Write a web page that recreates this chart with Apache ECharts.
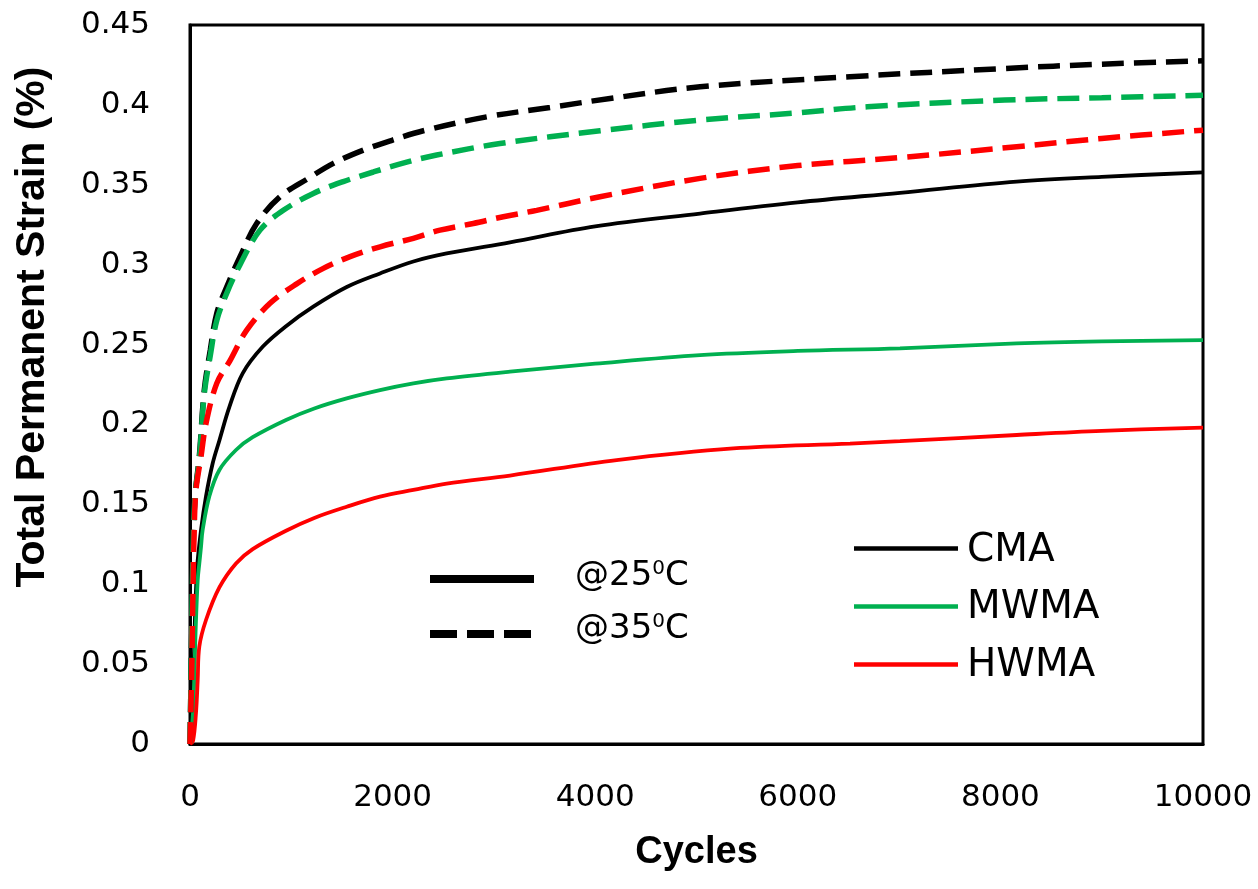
<!DOCTYPE html>
<html>
<head>
<meta charset="utf-8">
<script src="https://cdn.jsdelivr.net/npm/echarts@6/dist/echarts.min.js"></script>
<style>
  html, body { margin: 0; padding: 0; background: #fff; }
  #main { width: 1258px; height: 889px; }
</style>
</head>
<body>
<div id="main"></div>
<script>
// cycles and total permanent strain (%)
const cma25Cycles = [0, 25, 45, 70, 109, 158, 224, 290, 389, 520, 717, 948, 1217, 1547, 1876, 2205, 2534, 3159, 4000, 5035, 6000, 7009, 8161, 9000, 10000];
const cma25Strain = [0, 0.02, 0.07, 0.11, 0.134, 0.155, 0.1757, 0.190, 0.211, 0.232, 0.2486, 0.2615, 0.2737, 0.286, 0.2945, 0.302, 0.307, 0.314, 0.324, 0.332, 0.339, 0.345, 0.352, 0.355, 0.3577];

const mwma25Cycles = [0, 30, 55, 76, 92, 109, 125, 191, 290, 454, 619, 948, 1227, 1547, 1876, 2205, 2534, 3159, 4000, 5035, 6000, 7009, 8161, 9000, 10000];
const mwma25Strain = [0, 0.02, 0.07, 0.1026, 0.113, 0.1235, 0.134, 0.155, 0.1715, 0.184, 0.192, 0.2028, 0.210, 0.2163, 0.2215, 0.2257, 0.2288, 0.233, 0.238, 0.2434, 0.246, 0.2476, 0.2507, 0.252, 0.2528];

const hwma25Cycles = [0, 30, 59, 76, 92, 158, 290, 454, 619, 948, 1227, 1547, 1876, 2205, 2534, 3159, 4212, 5363, 6515, 7009, 8161, 9000, 10000];
const hwma25Strain = [0, 0.002, 0.0194, 0.04, 0.061, 0.0776, 0.098, 0.113, 0.122, 0.1335, 0.1415, 0.1485, 0.1548, 0.159, 0.163, 0.168, 0.1777, 0.185, 0.188, 0.1895, 0.1934, 0.196, 0.198];

const cma35Cycles = [0, 15, 30, 50, 92, 141, 200, 264, 362, 494, 658, 888, 1168, 1415, 1711, 2000, 2303, 2928, 3554, 4146, 5035, 6515, 8043, 9000, 10000];
const cma35Strain = [0, 0.06, 0.12, 0.155, 0.18, 0.2215, 0.2465, 0.2695, 0.286, 0.305, 0.3258, 0.3425, 0.354, 0.3634, 0.3717, 0.378, 0.3838, 0.3925, 0.3984, 0.404, 0.4113, 0.4176, 0.4228, 0.4255, 0.4276];

const mwma35Cycles = [0, 15, 30, 50, 92, 141, 200, 264, 362, 494, 691, 921, 1217, 1513, 1810, 2139, 2435, 3060, 4047, 5035, 6000, 6685, 8043, 9000, 10000];
const mwma35Strain = [0, 0.06, 0.12, 0.155, 0.178, 0.219, 0.243, 0.265, 0.282, 0.300, 0.3216, 0.334, 0.3446, 0.352, 0.358, 0.3642, 0.3686, 0.3758, 0.3838, 0.3905, 0.395, 0.3988, 0.403, 0.4045, 0.406];

const hwma35Cycles = [0, 15, 28, 40, 59, 109, 158, 264, 395, 560, 790, 1053, 1316, 1580, 1876, 2205, 2468, 2797, 3093, 3422, 4047, 5035, 6000, 7009, 8161, 9000, 10000];
const hwma35Strain = [0, 0.04, 0.09, 0.13, 0.159, 0.18, 0.2007, 0.2257, 0.24, 0.259, 0.2758, 0.288, 0.2977, 0.305, 0.3112, 0.3165, 0.3216, 0.3258, 0.33, 0.334, 0.3425, 0.354, 0.362, 0.367, 0.3738, 0.379, 0.3842];

const BLACK = '#000000', GREEN = '#00B050', RED = '#FF0000';
const zip = (xs, ys) => xs.map((x, i) => [x, ys[i]]);

function curve(name, xs, ys, color, dashed) {
  return {
    name: name,
    type: 'line',
    data: zip(xs, ys),
    showSymbol: false,
    symbol: 'none',
    smooth: 0.35,
    silent: true,
    lineStyle: dashed
      ? { color: color, width: 5.5, type: [22, 10] }
      : { color: color, width: 3.8, type: 'solid' },
    z: dashed ? 3 : 2
  };
}

const myChart = echarts.init(document.getElementById('main'));
myChart.setOption({
  animation: false,
  backgroundColor: '#fff',
  grid: {
    left: 190, right: 55, top: 25, bottom: 145,
    show: true, borderColor: '#000', borderWidth: 3
  },
  xAxis: {
    type: 'value',
    min: 0, max: 10000, interval: 2000,
    axisLine: { show: true, lineStyle: { color: '#000', width: 3 } },
    axisTick: { show: false },
    splitLine: { show: false },
    axisLabel: {
      color: '#000', fontFamily: 'DejaVu Sans', fontSize: 31, margin: 38,
      formatter: (v) => String(v)
    },
    name: 'Cycles',
    nameLocation: 'middle',
    nameGap: 90,
    nameTextStyle: { color: '#000', fontFamily: 'Liberation Sans', fontWeight: 'bold', fontSize: 38 }
  },
  yAxis: {
    type: 'value',
    min: 0, max: 0.45, interval: 0.05,
    axisLine: { show: true, lineStyle: { color: '#000', width: 3 } },
    axisTick: { show: false },
    splitLine: { show: false },
    axisLabel: { color: '#000', fontFamily: 'DejaVu Sans', fontSize: 31, margin: 40 }
  },
  series: [
    curve('CMA', cma25Cycles, cma25Strain, BLACK, false),
    curve('MWMA', mwma25Cycles, mwma25Strain, GREEN, false),
    curve('HWMA', hwma25Cycles, hwma25Strain, RED, false),
    curve('CMA @35', cma35Cycles, cma35Strain, BLACK, true),
    curve('MWMA @35', mwma35Cycles, mwma35Strain, GREEN, true),
    curve('HWMA @35', hwma35Cycles, hwma35Strain, RED, true)
  ],
  graphic: [
    {
      type: 'text', x: 33, y: 327, rotation: Math.PI / 2,
      style: {
        text: 'Total Permanent Strain (%)', fill: '#000',
        font: 'bold 41px "Liberation Sans"', align: 'center', verticalAlign: 'middle'
      }
    },
    // temperature key
    { type: 'line', shape: { x1: 430, y1: 579, x2: 534, y2: 579 }, style: { stroke: BLACK, lineWidth: 8 } },
    { type: 'line', shape: { x1: 430, y1: 634, x2: 532, y2: 634 }, style: { stroke: BLACK, lineWidth: 8, lineDash: [27, 10] } },
    {
      type: 'text', x: 575, y: 576,
      style: {
        text: '@25{sup|0}C', fill: '#000', font: '34px "DejaVu Sans"', verticalAlign: 'middle',
        rich: { sup: { fontSize: 20, fontFamily: 'DejaVu Sans', verticalAlign: 'top', fill: '#000' } }
      }
    },
    {
      type: 'text', x: 575, y: 629,
      style: {
        text: '@35{sup|0}C', fill: '#000', font: '34px "DejaVu Sans"', verticalAlign: 'middle',
        rich: { sup: { fontSize: 20, fontFamily: 'DejaVu Sans', verticalAlign: 'top', fill: '#000' } }
      }
    },
    // mixture key
    { type: 'line', shape: { x1: 854, y1: 548.5, x2: 958, y2: 548.5 }, style: { stroke: BLACK, lineWidth: 4.5 } },
    { type: 'line', shape: { x1: 854, y1: 606.5, x2: 958, y2: 606.5 }, style: { stroke: GREEN, lineWidth: 4.5 } },
    { type: 'line', shape: { x1: 854, y1: 664.5, x2: 958, y2: 664.5 }, style: { stroke: RED, lineWidth: 4.5 } },
    { type: 'text', x: 967, y: 551, style: { text: 'CMA', fill: '#000', font: '39px "DejaVu Sans"', verticalAlign: 'middle' } },
    { type: 'text', x: 967, y: 608, style: { text: 'MWMA', fill: '#000', font: '39px "DejaVu Sans"', verticalAlign: 'middle' } },
    { type: 'text', x: 967, y: 666, style: { text: 'HWMA', fill: '#000', font: '39px "DejaVu Sans"', verticalAlign: 'middle' } }
  ]
});

window.addEventListener('resize', () => {
  myChart.resize();
});
</script>
</body>
</html>
